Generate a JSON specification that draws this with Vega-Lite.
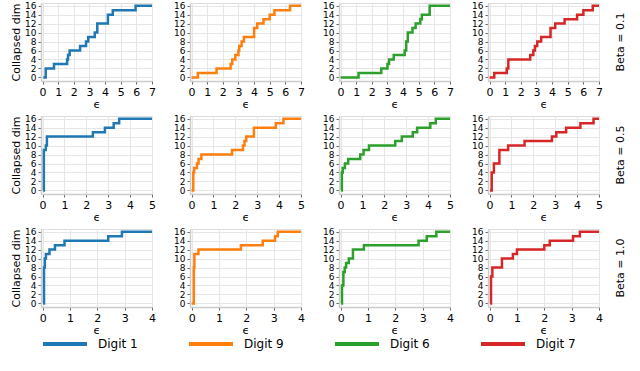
{
"$schema": "https://vega.github.io/schema/vega-lite/v6.json",
"padding": {"left": 10, "top": 0, "right": 2, "bottom": 2},
"background": "white",
"spacing": 3,
"datasets": {"d": [
{"beta":"0.1","digit":"Digit 1","eps":0.05,"dim":0},{"beta":"0.1","digit":"Digit 1","eps":0.2,"dim":2},{"beta":"0.1","digit":"Digit 1","eps":0.73,"dim":3},{"beta":"0.1","digit":"Digit 1","eps":1.57,"dim":4},{"beta":"0.1","digit":"Digit 1","eps":1.63,"dim":5},{"beta":"0.1","digit":"Digit 1","eps":1.73,"dim":6},{"beta":"0.1","digit":"Digit 1","eps":2.4,"dim":7},{"beta":"0.1","digit":"Digit 1","eps":2.78,"dim":8},{"beta":"0.1","digit":"Digit 1","eps":2.92,"dim":9},{"beta":"0.1","digit":"Digit 1","eps":3.34,"dim":10},{"beta":"0.1","digit":"Digit 1","eps":3.5,"dim":12},{"beta":"0.1","digit":"Digit 1","eps":4.18,"dim":14},{"beta":"0.1","digit":"Digit 1","eps":4.49,"dim":15},{"beta":"0.1","digit":"Digit 1","eps":5.95,"dim":16},{"beta":"0.1","digit":"Digit 1","eps":7,"dim":16},
{"beta":"0.1","digit":"Digit 9","eps":0,"dim":0},{"beta":"0.1","digit":"Digit 9","eps":0.4,"dim":1},{"beta":"0.1","digit":"Digit 9","eps":1.6,"dim":2},{"beta":"0.1","digit":"Digit 9","eps":2.5,"dim":3},{"beta":"0.1","digit":"Digit 9","eps":2.6,"dim":4},{"beta":"0.1","digit":"Digit 9","eps":2.8,"dim":5},{"beta":"0.1","digit":"Digit 9","eps":3.0,"dim":6},{"beta":"0.1","digit":"Digit 9","eps":3.05,"dim":7},{"beta":"0.1","digit":"Digit 9","eps":3.2,"dim":8},{"beta":"0.1","digit":"Digit 9","eps":3.35,"dim":9},{"beta":"0.1","digit":"Digit 9","eps":4.0,"dim":11},{"beta":"0.1","digit":"Digit 9","eps":4.2,"dim":12},{"beta":"0.1","digit":"Digit 9","eps":4.6,"dim":13},{"beta":"0.1","digit":"Digit 9","eps":5.0,"dim":14},{"beta":"0.1","digit":"Digit 9","eps":5.3,"dim":15},{"beta":"0.1","digit":"Digit 9","eps":6.3,"dim":16},{"beta":"0.1","digit":"Digit 9","eps":7,"dim":16},
{"beta":"0.1","digit":"Digit 6","eps":0,"dim":0},{"beta":"0.1","digit":"Digit 6","eps":1.15,"dim":1},{"beta":"0.1","digit":"Digit 6","eps":2.6,"dim":2},{"beta":"0.1","digit":"Digit 6","eps":3.0,"dim":3},{"beta":"0.1","digit":"Digit 6","eps":3.1,"dim":4},{"beta":"0.1","digit":"Digit 6","eps":3.4,"dim":5},{"beta":"0.1","digit":"Digit 6","eps":4.1,"dim":6},{"beta":"0.1","digit":"Digit 6","eps":4.2,"dim":8},{"beta":"0.1","digit":"Digit 6","eps":4.3,"dim":10},{"beta":"0.1","digit":"Digit 6","eps":4.6,"dim":11},{"beta":"0.1","digit":"Digit 6","eps":4.8,"dim":12},{"beta":"0.1","digit":"Digit 6","eps":5.1,"dim":13},{"beta":"0.1","digit":"Digit 6","eps":5.2,"dim":14},{"beta":"0.1","digit":"Digit 6","eps":5.7,"dim":16},{"beta":"0.1","digit":"Digit 6","eps":7,"dim":16},
{"beta":"0.1","digit":"Digit 7","eps":0,"dim":0},{"beta":"0.1","digit":"Digit 7","eps":0.3,"dim":1},{"beta":"0.1","digit":"Digit 7","eps":1.1,"dim":2},{"beta":"0.1","digit":"Digit 7","eps":1.2,"dim":4},{"beta":"0.1","digit":"Digit 7","eps":2.6,"dim":5},{"beta":"0.1","digit":"Digit 7","eps":2.8,"dim":6},{"beta":"0.1","digit":"Digit 7","eps":2.9,"dim":7},{"beta":"0.1","digit":"Digit 7","eps":3.05,"dim":8},{"beta":"0.1","digit":"Digit 7","eps":3.3,"dim":9},{"beta":"0.1","digit":"Digit 7","eps":3.9,"dim":11},{"beta":"0.1","digit":"Digit 7","eps":4.2,"dim":12},{"beta":"0.1","digit":"Digit 7","eps":4.8,"dim":13},{"beta":"0.1","digit":"Digit 7","eps":5.6,"dim":14},{"beta":"0.1","digit":"Digit 7","eps":6.0,"dim":15},{"beta":"0.1","digit":"Digit 7","eps":6.6,"dim":16},{"beta":"0.1","digit":"Digit 7","eps":7,"dim":16},
{"beta":"0.5","digit":"Digit 1","eps":0.03,"dim":0},{"beta":"0.5","digit":"Digit 1","eps":0.06,"dim":9},{"beta":"0.5","digit":"Digit 1","eps":0.15,"dim":10},{"beta":"0.5","digit":"Digit 1","eps":0.2,"dim":12},{"beta":"0.5","digit":"Digit 1","eps":2.3,"dim":13},{"beta":"0.5","digit":"Digit 1","eps":2.85,"dim":14},{"beta":"0.5","digit":"Digit 1","eps":3.25,"dim":15},{"beta":"0.5","digit":"Digit 1","eps":3.5,"dim":16},{"beta":"0.5","digit":"Digit 1","eps":5,"dim":16},
{"beta":"0.5","digit":"Digit 9","eps":0,"dim":0},{"beta":"0.5","digit":"Digit 9","eps":0.08,"dim":4},{"beta":"0.5","digit":"Digit 9","eps":0.12,"dim":5},{"beta":"0.5","digit":"Digit 9","eps":0.25,"dim":6},{"beta":"0.5","digit":"Digit 9","eps":0.32,"dim":7},{"beta":"0.5","digit":"Digit 9","eps":0.45,"dim":8},{"beta":"0.5","digit":"Digit 9","eps":1.85,"dim":9},{"beta":"0.5","digit":"Digit 9","eps":2.35,"dim":10},{"beta":"0.5","digit":"Digit 9","eps":2.42,"dim":11},{"beta":"0.5","digit":"Digit 9","eps":2.5,"dim":12},{"beta":"0.5","digit":"Digit 9","eps":2.85,"dim":14},{"beta":"0.5","digit":"Digit 9","eps":3.85,"dim":15},{"beta":"0.5","digit":"Digit 9","eps":4.2,"dim":16},{"beta":"0.5","digit":"Digit 9","eps":5,"dim":16},
{"beta":"0.5","digit":"Digit 6","eps":0.03,"dim":0},{"beta":"0.5","digit":"Digit 6","eps":0.06,"dim":4},{"beta":"0.5","digit":"Digit 6","eps":0.1,"dim":5},{"beta":"0.5","digit":"Digit 6","eps":0.2,"dim":6},{"beta":"0.5","digit":"Digit 6","eps":0.35,"dim":7},{"beta":"0.5","digit":"Digit 6","eps":0.9,"dim":8},{"beta":"0.5","digit":"Digit 6","eps":1.05,"dim":9},{"beta":"0.5","digit":"Digit 6","eps":1.3,"dim":10},{"beta":"0.5","digit":"Digit 6","eps":2.5,"dim":11},{"beta":"0.5","digit":"Digit 6","eps":2.8,"dim":12},{"beta":"0.5","digit":"Digit 6","eps":3.3,"dim":13},{"beta":"0.5","digit":"Digit 6","eps":3.5,"dim":14},{"beta":"0.5","digit":"Digit 6","eps":4.1,"dim":15},{"beta":"0.5","digit":"Digit 6","eps":4.35,"dim":16},{"beta":"0.5","digit":"Digit 6","eps":5,"dim":16},
{"beta":"0.5","digit":"Digit 7","eps":0.02,"dim":0},{"beta":"0.5","digit":"Digit 7","eps":0.1,"dim":4},{"beta":"0.5","digit":"Digit 7","eps":0.2,"dim":6},{"beta":"0.5","digit":"Digit 7","eps":0.45,"dim":9},{"beta":"0.5","digit":"Digit 7","eps":0.85,"dim":10},{"beta":"0.5","digit":"Digit 7","eps":1.6,"dim":11},{"beta":"0.5","digit":"Digit 7","eps":2.85,"dim":12},{"beta":"0.5","digit":"Digit 7","eps":3.05,"dim":13},{"beta":"0.5","digit":"Digit 7","eps":3.5,"dim":14},{"beta":"0.5","digit":"Digit 7","eps":4.15,"dim":15},{"beta":"0.5","digit":"Digit 7","eps":4.75,"dim":16},{"beta":"0.5","digit":"Digit 7","eps":5,"dim":16},
{"beta":"1.0","digit":"Digit 1","eps":0.02,"dim":0},{"beta":"1.0","digit":"Digit 1","eps":0.05,"dim":8},{"beta":"1.0","digit":"Digit 1","eps":0.08,"dim":10},{"beta":"1.0","digit":"Digit 1","eps":0.12,"dim":11},{"beta":"1.0","digit":"Digit 1","eps":0.25,"dim":12},{"beta":"1.0","digit":"Digit 1","eps":0.45,"dim":13},{"beta":"1.0","digit":"Digit 1","eps":0.8,"dim":14},{"beta":"1.0","digit":"Digit 1","eps":2.4,"dim":15},{"beta":"1.0","digit":"Digit 1","eps":2.9,"dim":16},{"beta":"1.0","digit":"Digit 1","eps":4,"dim":16},
{"beta":"1.0","digit":"Digit 9","eps":0,"dim":0},{"beta":"1.0","digit":"Digit 9","eps":0.08,"dim":8},{"beta":"1.0","digit":"Digit 9","eps":0.1,"dim":11},{"beta":"1.0","digit":"Digit 9","eps":0.25,"dim":12},{"beta":"1.0","digit":"Digit 9","eps":1.8,"dim":13},{"beta":"1.0","digit":"Digit 9","eps":2.6,"dim":14},{"beta":"1.0","digit":"Digit 9","eps":3.05,"dim":15},{"beta":"1.0","digit":"Digit 9","eps":3.15,"dim":16},{"beta":"1.0","digit":"Digit 9","eps":4,"dim":16},
{"beta":"1.0","digit":"Digit 6","eps":0.02,"dim":0},{"beta":"1.0","digit":"Digit 6","eps":0.05,"dim":4},{"beta":"1.0","digit":"Digit 6","eps":0.1,"dim":7},{"beta":"1.0","digit":"Digit 6","eps":0.15,"dim":8},{"beta":"1.0","digit":"Digit 6","eps":0.2,"dim":9},{"beta":"1.0","digit":"Digit 6","eps":0.3,"dim":10},{"beta":"1.0","digit":"Digit 6","eps":0.45,"dim":12},{"beta":"1.0","digit":"Digit 6","eps":0.85,"dim":13},{"beta":"1.0","digit":"Digit 6","eps":2.85,"dim":14},{"beta":"1.0","digit":"Digit 6","eps":3.15,"dim":15},{"beta":"1.0","digit":"Digit 6","eps":3.5,"dim":16},{"beta":"1.0","digit":"Digit 6","eps":4,"dim":16},
{"beta":"1.0","digit":"Digit 7","eps":0.02,"dim":0},{"beta":"1.0","digit":"Digit 7","eps":0.05,"dim":6},{"beta":"1.0","digit":"Digit 7","eps":0.1,"dim":8},{"beta":"1.0","digit":"Digit 7","eps":0.45,"dim":10},{"beta":"1.0","digit":"Digit 7","eps":0.85,"dim":11},{"beta":"1.0","digit":"Digit 7","eps":1.0,"dim":12},{"beta":"1.0","digit":"Digit 7","eps":2.0,"dim":13},{"beta":"1.0","digit":"Digit 7","eps":2.2,"dim":14},{"beta":"1.0","digit":"Digit 7","eps":3.05,"dim":15},{"beta":"1.0","digit":"Digit 7","eps":3.3,"dim":16},{"beta":"1.0","digit":"Digit 7","eps":4,"dim":16}
]},
"vconcat": [
{"spacing": 15, "hconcat": [
{"width":111,"height":78,"data":{"name":"d"},"transform":[{"filter":"datum.beta=='0.1' && datum.digit=='Digit 1'"}],"mark":{"type":"line","interpolate":"step-after","strokeWidth":2.5},"encoding":{"x":{"field":"eps","type":"quantitative","scale":{"domain":[-0.1,7],"nice":false,"zero":false},"axis":{"values":[0,1,2,3,4,5,6,7],"title":"ϵ"}},"y":{"field":"dim","type":"quantitative","scale":{"domain":[-0.8,16.6],"nice":false},"axis":{"values":[0,2,4,6,8,10,12,14,16],"title":"Collapsed dim"}},"color":{"field":"digit","type":"nominal","scale":{"domain":["Digit 1","Digit 9","Digit 6","Digit 7"],"range":["#1f77b4","#ff7f0e","#2ca02c","#d62728"]}}}},
{"width":111,"height":78,"data":{"name":"d"},"transform":[{"filter":"datum.beta=='0.1' && datum.digit=='Digit 9'"}],"mark":{"type":"line","interpolate":"step-after","strokeWidth":2.5},"encoding":{"x":{"field":"eps","type":"quantitative","scale":{"domain":[-0.1,7],"nice":false,"zero":false},"axis":{"values":[0,1,2,3,4,5,6,7],"title":"ϵ"}},"y":{"field":"dim","type":"quantitative","scale":{"domain":[-0.8,16.6],"nice":false},"axis":{"values":[0,2,4,6,8,10,12,14,16],"title":null}},"color":{"field":"digit","type":"nominal","scale":{"domain":["Digit 1","Digit 9","Digit 6","Digit 7"],"range":["#1f77b4","#ff7f0e","#2ca02c","#d62728"]}}}},
{"width":111,"height":78,"data":{"name":"d"},"transform":[{"filter":"datum.beta=='0.1' && datum.digit=='Digit 6'"}],"mark":{"type":"line","interpolate":"step-after","strokeWidth":2.5},"encoding":{"x":{"field":"eps","type":"quantitative","scale":{"domain":[-0.1,7],"nice":false,"zero":false},"axis":{"values":[0,1,2,3,4,5,6,7],"title":"ϵ"}},"y":{"field":"dim","type":"quantitative","scale":{"domain":[-0.8,16.6],"nice":false},"axis":{"values":[0,2,4,6,8,10,12,14,16],"title":null}},"color":{"field":"digit","type":"nominal","scale":{"domain":["Digit 1","Digit 9","Digit 6","Digit 7"],"range":["#1f77b4","#ff7f0e","#2ca02c","#d62728"]}}}},
{"width":111,"height":78,"title":{"text":"Beta = 0.1","orient":"right","angle":-90,"offset":0},"data":{"name":"d"},"transform":[{"filter":"datum.beta=='0.1' && datum.digit=='Digit 7'"}],"mark":{"type":"line","interpolate":"step-after","strokeWidth":2.5},"encoding":{"x":{"field":"eps","type":"quantitative","scale":{"domain":[-0.1,7],"nice":false,"zero":false},"axis":{"values":[0,1,2,3,4,5,6,7],"title":"ϵ"}},"y":{"field":"dim","type":"quantitative","scale":{"domain":[-0.8,16.6],"nice":false},"axis":{"values":[0,2,4,6,8,10,12,14,16],"title":null}},"color":{"field":"digit","type":"nominal","scale":{"domain":["Digit 1","Digit 9","Digit 6","Digit 7"],"range":["#1f77b4","#ff7f0e","#2ca02c","#d62728"]}}}}
]},
{"spacing": 15, "hconcat": [
{"width":111,"height":78,"data":{"name":"d"},"transform":[{"filter":"datum.beta=='0.5' && datum.digit=='Digit 1'"}],"mark":{"type":"line","interpolate":"step-after","strokeWidth":2.5},"encoding":{"x":{"field":"eps","type":"quantitative","scale":{"domain":[-0.07,5],"nice":false,"zero":false},"axis":{"values":[0,1,2,3,4,5],"title":"ϵ"}},"y":{"field":"dim","type":"quantitative","scale":{"domain":[-0.8,16.6],"nice":false},"axis":{"values":[0,2,4,6,8,10,12,14,16],"title":"Collapsed dim"}},"color":{"field":"digit","type":"nominal","scale":{"domain":["Digit 1","Digit 9","Digit 6","Digit 7"],"range":["#1f77b4","#ff7f0e","#2ca02c","#d62728"]}}}},
{"width":111,"height":78,"data":{"name":"d"},"transform":[{"filter":"datum.beta=='0.5' && datum.digit=='Digit 9'"}],"mark":{"type":"line","interpolate":"step-after","strokeWidth":2.5},"encoding":{"x":{"field":"eps","type":"quantitative","scale":{"domain":[-0.07,5],"nice":false,"zero":false},"axis":{"values":[0,1,2,3,4,5],"title":"ϵ"}},"y":{"field":"dim","type":"quantitative","scale":{"domain":[-0.8,16.6],"nice":false},"axis":{"values":[0,2,4,6,8,10,12,14,16],"title":null}},"color":{"field":"digit","type":"nominal","scale":{"domain":["Digit 1","Digit 9","Digit 6","Digit 7"],"range":["#1f77b4","#ff7f0e","#2ca02c","#d62728"]}}}},
{"width":111,"height":78,"data":{"name":"d"},"transform":[{"filter":"datum.beta=='0.5' && datum.digit=='Digit 6'"}],"mark":{"type":"line","interpolate":"step-after","strokeWidth":2.5},"encoding":{"x":{"field":"eps","type":"quantitative","scale":{"domain":[-0.07,5],"nice":false,"zero":false},"axis":{"values":[0,1,2,3,4,5],"title":"ϵ"}},"y":{"field":"dim","type":"quantitative","scale":{"domain":[-0.8,16.6],"nice":false},"axis":{"values":[0,2,4,6,8,10,12,14,16],"title":null}},"color":{"field":"digit","type":"nominal","scale":{"domain":["Digit 1","Digit 9","Digit 6","Digit 7"],"range":["#1f77b4","#ff7f0e","#2ca02c","#d62728"]}}}},
{"width":111,"height":78,"title":{"text":"Beta = 0.5","orient":"right","angle":-90,"offset":0},"data":{"name":"d"},"transform":[{"filter":"datum.beta=='0.5' && datum.digit=='Digit 7'"}],"mark":{"type":"line","interpolate":"step-after","strokeWidth":2.5},"encoding":{"x":{"field":"eps","type":"quantitative","scale":{"domain":[-0.07,5],"nice":false,"zero":false},"axis":{"values":[0,1,2,3,4,5],"title":"ϵ"}},"y":{"field":"dim","type":"quantitative","scale":{"domain":[-0.8,16.6],"nice":false},"axis":{"values":[0,2,4,6,8,10,12,14,16],"title":null}},"color":{"field":"digit","type":"nominal","scale":{"domain":["Digit 1","Digit 9","Digit 6","Digit 7"],"range":["#1f77b4","#ff7f0e","#2ca02c","#d62728"]}}}}
]},
{"spacing": 15, "hconcat": [
{"width":111,"height":78,"data":{"name":"d"},"transform":[{"filter":"datum.beta=='1.0' && datum.digit=='Digit 1'"}],"mark":{"type":"line","interpolate":"step-after","strokeWidth":2.5},"encoding":{"x":{"field":"eps","type":"quantitative","scale":{"domain":[-0.06,4],"nice":false,"zero":false},"axis":{"values":[0,1,2,3,4],"title":"ϵ"}},"y":{"field":"dim","type":"quantitative","scale":{"domain":[-0.8,16.6],"nice":false},"axis":{"values":[0,2,4,6,8,10,12,14,16],"title":"Collapsed dim"}},"color":{"field":"digit","type":"nominal","scale":{"domain":["Digit 1","Digit 9","Digit 6","Digit 7"],"range":["#1f77b4","#ff7f0e","#2ca02c","#d62728"]}}}},
{"width":111,"height":78,"data":{"name":"d"},"transform":[{"filter":"datum.beta=='1.0' && datum.digit=='Digit 9'"}],"mark":{"type":"line","interpolate":"step-after","strokeWidth":2.5},"encoding":{"x":{"field":"eps","type":"quantitative","scale":{"domain":[-0.06,4],"nice":false,"zero":false},"axis":{"values":[0,1,2,3,4],"title":"ϵ"}},"y":{"field":"dim","type":"quantitative","scale":{"domain":[-0.8,16.6],"nice":false},"axis":{"values":[0,2,4,6,8,10,12,14,16],"title":null}},"color":{"field":"digit","type":"nominal","scale":{"domain":["Digit 1","Digit 9","Digit 6","Digit 7"],"range":["#1f77b4","#ff7f0e","#2ca02c","#d62728"]}}}},
{"width":111,"height":78,"data":{"name":"d"},"transform":[{"filter":"datum.beta=='1.0' && datum.digit=='Digit 6'"}],"mark":{"type":"line","interpolate":"step-after","strokeWidth":2.5},"encoding":{"x":{"field":"eps","type":"quantitative","scale":{"domain":[-0.06,4],"nice":false,"zero":false},"axis":{"values":[0,1,2,3,4],"title":"ϵ"}},"y":{"field":"dim","type":"quantitative","scale":{"domain":[-0.8,16.6],"nice":false},"axis":{"values":[0,2,4,6,8,10,12,14,16],"title":null}},"color":{"field":"digit","type":"nominal","scale":{"domain":["Digit 1","Digit 9","Digit 6","Digit 7"],"range":["#1f77b4","#ff7f0e","#2ca02c","#d62728"]}}}},
{"width":111,"height":78,"title":{"text":"Beta = 1.0","orient":"right","angle":-90,"offset":0},"data":{"name":"d"},"transform":[{"filter":"datum.beta=='1.0' && datum.digit=='Digit 7'"}],"mark":{"type":"line","interpolate":"step-after","strokeWidth":2.5},"encoding":{"x":{"field":"eps","type":"quantitative","scale":{"domain":[-0.06,4],"nice":false,"zero":false},"axis":{"values":[0,1,2,3,4],"title":"ϵ"}},"y":{"field":"dim","type":"quantitative","scale":{"domain":[-0.8,16.6],"nice":false},"axis":{"values":[0,2,4,6,8,10,12,14,16],"title":null}},"color":{"field":"digit","type":"nominal","scale":{"domain":["Digit 1","Digit 9","Digit 6","Digit 7"],"range":["#1f77b4","#ff7f0e","#2ca02c","#d62728"]}}}}
]}
],
"config": {
"font": "DejaVu Sans",
"view": {"stroke": "#dddddd"},
"title": {"font": "DejaVu Sans", "fontSize": 11, "fontWeight": "normal", "color": "#000"},
"axis": {"gridColor": "#e6e6e6", "domainColor": "#cccccc", "domainWidth": 1.5, "tickColor": "#666", "tickSize": 3, "labelFont": "DejaVu Sans", "titleFont": "DejaVu Sans", "labelColor": "#000", "titleColor": "#000", "titleFontWeight": "normal", "labelPadding": 2, "labelOverlap": false},
"axisX": {"labelFontSize": 11, "titleFontSize": 11, "titlePadding": 1, "labelFlush": false},
"axisY": {"labelFontSize": 9, "titleFontSize": 11, "titlePadding": 3},
"legend": {"orient": "bottom", "direction": "horizontal", "title": null, "symbolType": "stroke", "symbolSize": 1936, "symbolStrokeWidth": 4, "labelFontSize": 12, "labelFont": "DejaVu Sans", "labelColor": "#000", "columnPadding": 43, "labelOffset": 9, "offset": -16}
}
}
